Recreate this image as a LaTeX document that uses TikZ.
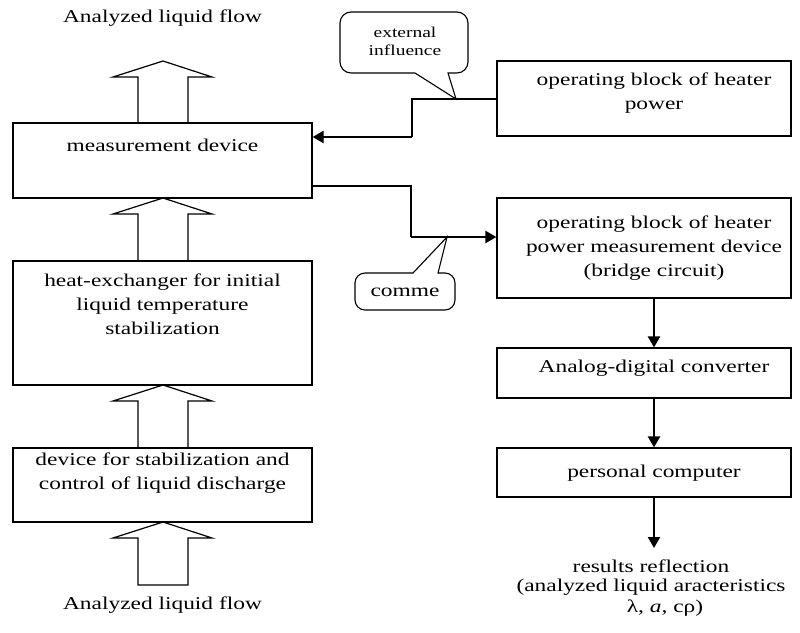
\documentclass[tikz,border=0pt]{standalone}
\usepackage{fontspec}
\setmainfont{Liberation Serif}[FakeStretch=1.3]
\usetikzlibrary{arrows.meta,calc}
\begin{document}
\begin{tikzpicture}[x=1pt,y=-1pt,
  box/.style={draw, line width=1.2pt, inner sep=0pt},
  txt/.style={inner sep=0pt, align=center, font=\fontsize{18}{24}\selectfont},
  ctxt/.style={inner sep=0pt, align=center, font=\fontsize{15}{18}\selectfont},
  bigarrow/.style={draw, line width=1.2pt, line join=miter},
  thinline/.style={line width=1.2pt},
  conn/.style={line width=2.4pt, -{Triangle[length=11pt,width=12pt]}},
  callout/.style={draw, line width=1.1pt}]
\useasboundingbox (0,0) rectangle (800,632);

% left column boxes
\node[box, minimum width=299pt, minimum height=75pt] (md) at (162.5,160.5) {};
\node[box, minimum width=299pt, minimum height=124pt] (he) at (162.5,323) {};
\node[box, minimum width=299pt, minimum height=74pt] (dev) at (162.5,485) {};

% right column boxes
\node[box, minimum width=294pt, minimum height=75pt] (hp) at (644,98.5) {};
\node[box, minimum width=294pt, minimum height=100pt] (br) at (644,248) {};
\node[box, minimum width=294pt, minimum height=50pt] (adc) at (644,373) {};
\node[box, minimum width=294pt, minimum height=49pt] (pc) at (644,472.5) {};

% texts
\node[txt] (ttop) at (162.5,18) {Analyzed liquid flow};
\node[txt] (tmd) at (162.5,145) {measurement device};
\node[txt] (the) at (162.5,304) {heat-exchanger for initial\\liquid temperature\\stabilization};
\node[txt] (tdev) at (162.5,473) {device for stabilization and\\control of liquid discharge};
\node[txt] (tbot) at (162.5,605) {Analyzed liquid flow};
\node[txt] (thp) at (654,93) {operating block of heater\\power};
\node[txt] (tbr) at (654,248) {operating block of heater\\power measurement device\\(bridge circuit)};
\node[txt] (tadc) at (654,368) {Analog-digital converter};
\node[txt] (tpc) at (654,473) {personal computer};
\node[txt] (tr1) at (651,566) {results reflection};
\node[txt] (tr2) at (651,587) {(analyzed liquid aracteristics};
\node[txt] (tr3) at (665,608) {λ, \textit{a}, cρ)};

% hollow flow arrows (left column)
\draw[bigarrow] (138,123) -- (138,77) -- (113,77) -- (163,61) -- (212,77) -- (188,77) -- (188,123);
\draw[bigarrow] (138,261) -- (138,214) -- (113,214) -- (163,198) -- (212,214) -- (188,214) -- (188,261);
\draw[bigarrow] (138,448) -- (138,401) -- (113,401) -- (163,385) -- (212,401) -- (188,401) -- (188,448);
\draw[bigarrow] (138,585) -- (138,538) -- (113,538) -- (163,522) -- (212,538) -- (188,538) -- (188,585) -- cycle;

% connector: heater power block -> measurement device
\coordinate (a1) at (412,99);
\coordinate (a2) at (412,137);
\draw[thinline] (hp.west |- a1) -- (a1) -- (a2);
\draw[conn] (a2) -- (md.east |- a2);

% connector: measurement device -> bridge block
\coordinate (b1) at (411,186);
\coordinate (b2) at (411,237);
\draw[thinline] (md.east |- b1) -- (b1) -- (b2);
\draw[conn] (b2) -- (br.west |- b2);

% right column arrows
\coordinate (res) at (654,548);
\draw[conn] (br.south -| 654,0) -- (adc.north -| 654,0);
\draw[conn] (adc.south -| 654,0) -- (pc.north -| 654,0);
\draw[conn] (pc.south -| 654,0) -- (res);

% callout: external influence
\coordinate (ext) at (456,99);
\draw[callout] (415,73) [rounded corners=11pt] -- (340,73) -- (340,12) -- (468,12) -- (468,73) [sharp corners] -- (448,73) -- (ext) -- cycle;
\node[ctxt] (text) at (405,41) {external\\influence};

% callout: comme
\coordinate (com) at (447,237);
\draw[callout] (438,273) [rounded corners=10pt] -- (455,273) -- (455,310) -- (355,310) -- (355,273) [sharp corners] -- (413,273) -- (com) -- cycle;
\node[txt] (tcom) at (405,292) {comme};
\end{tikzpicture}
\end{document}
